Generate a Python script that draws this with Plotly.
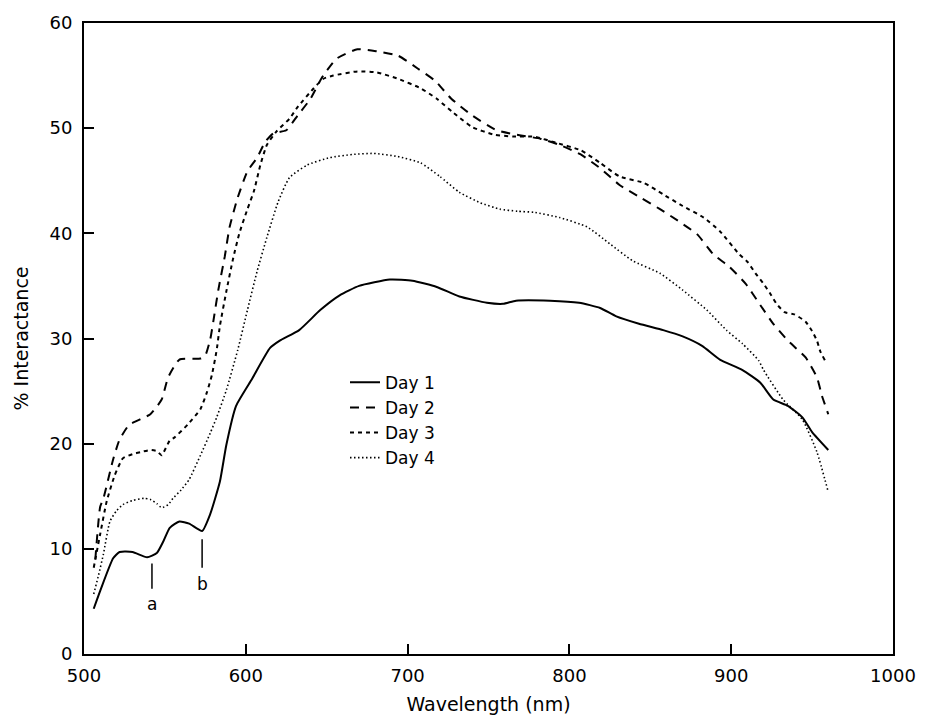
import plotly.graph_objects as go

# ---------------- data ----------------
day1_wl = [506, 510, 518, 522, 530, 539, 545, 549, 553, 559, 565, 573, 578, 584, 588, 594,
           604, 615, 621, 633, 646, 658, 670, 689, 703, 718, 732, 749, 759, 767, 788, 806,
           819, 829, 843, 858, 870, 882, 893, 907, 918, 926, 935, 944, 950, 960]
day1_val = [4.3, 6.0, 9.1, 9.7, 9.7, 9.2, 9.6, 10.7, 12.0, 12.6, 12.4, 11.7, 13.3, 16.4, 19.9, 23.6,
            26.2, 29.1, 29.8, 30.8, 32.7, 34.1, 35.0, 35.6, 35.5, 34.9, 34.0, 33.4, 33.3, 33.6, 33.6, 33.4,
            32.9, 32.1, 31.4, 30.8, 30.2, 29.3, 28.0, 27.0, 25.8, 24.2, 23.6, 22.5, 21.1, 19.4]

day2_wl = [507, 510, 512, 518, 522, 528, 541, 548, 552, 559, 572, 575, 578, 580, 583, 587,
           590, 595, 601, 607, 612, 617, 625, 632, 640, 647, 656, 669, 681, 694, 706, 717,
           727, 740, 755, 770, 782, 794, 807, 819, 831, 844, 856, 868, 879, 889, 899, 909,
           917, 926, 935, 946, 953, 956, 960]
day2_val = [9.0, 14.0, 14.8, 18.5, 20.4, 21.8, 22.8, 24.2, 26.3, 28.0, 28.1, 28.4, 29.9, 31.7, 34.6, 37.8,
            40.6, 43.4, 45.9, 47.2, 48.7, 49.5, 49.8, 51.2, 52.8, 54.8, 56.6, 57.5, 57.3, 56.9, 55.7, 54.5,
            52.8, 51.2, 49.8, 49.3, 49.0, 48.4, 47.5, 46.2, 44.6, 43.4, 42.3, 41.1, 39.9, 38.0, 36.8, 35.2,
            33.4, 31.4, 29.8, 28.2, 26.3, 24.6, 22.8]

day3_wl = [506, 510, 514, 519, 524, 530, 535, 541, 545, 548, 553, 556, 564, 572, 576, 579,
           582, 584, 588, 592, 596, 601, 605, 609, 613, 619, 627, 632, 642, 648, 654, 669,
           681, 694, 708, 718, 728, 740, 753, 765, 778, 792, 807, 819, 831, 846, 858, 870,
           883, 893, 905, 910, 915, 920, 924, 928, 933, 939, 946, 950, 953, 955, 958]
day3_val = [8.2, 11.4, 14.5, 17.0, 18.6, 19.0, 19.2, 19.4, 19.3, 18.9, 20.3, 20.6, 21.8, 23.3, 24.9, 26.5,
            28.9, 31.2, 34.5, 37.5, 40.0, 42.3, 44.0, 46.5, 48.4, 49.7, 50.9, 52.0, 53.8, 54.7, 55.0, 55.4,
            55.3, 54.7, 53.8, 52.8, 51.5, 50.1, 49.4, 49.2, 49.2, 48.6, 47.9, 46.7, 45.4, 44.8, 43.7, 42.6,
            41.5, 40.2, 38.0, 37.3, 36.2, 35.2, 34.3, 33.3, 32.5, 32.3, 31.6, 30.7, 29.8, 28.8, 27.9]

day4_wl = [506, 509, 512, 516, 520, 524, 530, 537, 541, 545, 548, 552, 555, 560, 565, 572,
           578, 582, 588, 595, 601, 607, 613, 620, 627, 638, 652, 666, 679, 694, 708, 720,
           732, 745, 757, 768, 778, 794, 811, 825, 839, 856, 870, 885, 897, 907, 917, 920,
           932, 944, 953, 960]
day4_val = [5.7, 7.5, 9.5, 12.6, 13.6, 14.2, 14.6, 14.8, 14.7, 14.3, 13.9, 14.2, 14.8, 15.6, 16.6, 18.9,
            21.0, 22.5, 25.1, 28.9, 32.7, 36.4, 39.6, 43.0, 45.3, 46.5, 47.2, 47.5, 47.6, 47.3, 46.7, 45.4,
            43.9, 42.9, 42.3, 42.1, 42.0, 41.5, 40.6, 39.0, 37.4, 36.2, 34.6, 32.7, 30.8, 29.5, 27.9, 27.0,
            24.2, 22.3, 19.2, 15.4]

series_names = ["Day 1", "Day 2", "Day 3", "Day 4"]

x_ticks = [500, 600, 700, 800, 900, 1000]
y_ticks = [0, 10, 20, 30, 40, 50, 60]

# feature markers (label, wavelength, line top, line bottom, label y)
marker_labels = ["a", "b"]
marker_wl = [542, 573]
marker_top = [8.6, 10.9]
marker_bot = [6.2, 8.2]
marker_text_y = [4.8, 6.7]

# ---------------- figure ----------------
FONT = "DejaVu Sans"
styles = [
    dict(color="black", width=2, dash="solid"),
    dict(color="black", width=2, dash="9px,7px"),
    dict(color="black", width=2, dash="4px,4px"),
    dict(color="black", width=1.6, dash="1.5px,2.5px"),
]
xs = [day1_wl, day2_wl, day3_wl, day4_wl]
ys = [day1_val, day2_val, day3_val, day4_val]

fig = go.Figure()
for i in range(4):
    fig.add_trace(go.Scatter(
        x=xs[i], y=ys[i], mode="lines", name=series_names[i],
        line=dict(**styles[i], shape="spline", smoothing=0.5),
        legendgroup=series_names[i],
    ))

for lab, wl, t, b, ty in zip(marker_labels, marker_wl, marker_top, marker_bot, marker_text_y):
    fig.add_shape(type="line", xref="x", yref="y", x0=wl, x1=wl, y0=b, y1=t,
                  line=dict(color="black", width=1.5))
    fig.add_annotation(x=wl, y=ty, xref="x", yref="y", text=lab, showarrow=False,
                       font=dict(family=FONT, size=17, color="black"))

fig.update_layout(
    width=929, height=726,
    margin=dict(l=84, r=36, t=17, b=72),
    paper_bgcolor="white", plot_bgcolor="white",
    font=dict(family=FONT, size=16, color="black"),
    showlegend=True,
    legend=dict(
        x=(345 - 84) / 809, y=(654 - 362) / 637, xanchor="left", yanchor="top",
        bgcolor="rgba(0,0,0,0)", font=dict(family=FONT, size=17, color="black"),
        tracegroupgap=0, itemwidth=30,
    ),
    xaxis=dict(
        range=[500, 1000], tickvals=x_ticks, ticktext=[str(v) for v in x_ticks],
        showgrid=False, zeroline=False, showline=True, linecolor="black", linewidth=2,
        mirror=True, ticks="inside", ticklen=10, tickwidth=1.5, tickcolor="black",
        tickfont=dict(family=FONT, size=18, color="black"), ticklabelstandoff=4,
        title=dict(text="Wavelength (nm)", font=dict(family=FONT, size=19, color="black"), standoff=13),
    ),
    yaxis=dict(
        range=[0, 60], tickvals=y_ticks, ticktext=[str(v) for v in y_ticks],
        showgrid=False, zeroline=False, showline=True, linecolor="black", linewidth=2,
        mirror=True, ticks="inside", ticklen=10, tickwidth=1.5, tickcolor="black",
        tickfont=dict(family=FONT, size=18, color="black"), ticklabelstandoff=6,
        title=dict(text="% Interactance", font=dict(family=FONT, size=19, color="black"), standoff=16),
    ),
)

fig.write_html("out.html")
